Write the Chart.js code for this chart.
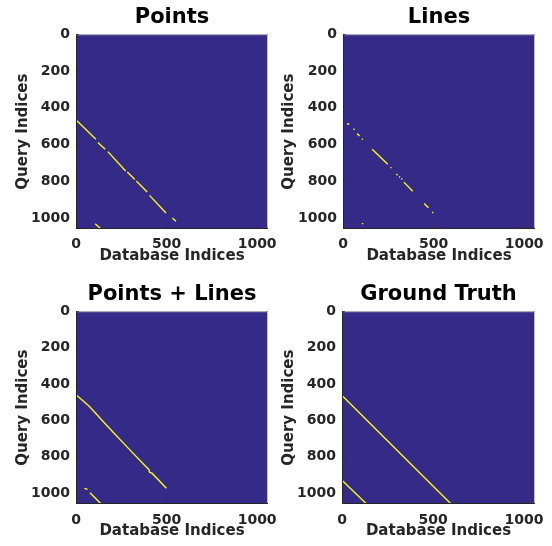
<!DOCTYPE html>
<html>
<head>
<meta charset="utf-8">
<script src="https://cdn.jsdelivr.net/npm/chart.js@4.4.0/dist/chart.umd.min.js"></script>
<style>
  body { margin: 0; background: #ffffff; }
  .panel { position: absolute; width: 276px; height: 273px; }
</style>
</head>
<body>
<div class="panel" style="left:0;top:0"><canvas id="c1" width="276" height="273"></canvas></div>
<div class="panel" style="left:276px;top:0"><canvas id="c2" width="276" height="273"></canvas></div>
<div class="panel" style="left:0;top:273px"><canvas id="c3" width="276" height="273"></canvas></div>
<div class="panel" style="left:276px;top:273px"><canvas id="c4" width="276" height="273"></canvas></div>
<script>
// ticks of the axes
const xTicks = [0, 500, 1000];
const yTicks = [0, 200, 400, 600, 800, 1000];

// Points (null = gap between segments)
const pointsX = [5, 110, null, 121, 161, null, 176, 274, null, 283, 325, null, 333, 393, null, 406, 497, null, 532, 552, null, 106, 141];
const pointsY = [471, 571, null, 589, 626, null, 639, 744, null, 750, 790, null, 799, 859, null, 877, 973, null, 1000, 1018, null, 1031, 1063];

// Lines
const linesX = [22, 35, null, 57, 65, null, 78, 91, null, 104, 110, null, 161, 247, null, 262, 268, null, 294, 298, null, 310, 315, null, 322, 328, null, 336, 385, null, 448, 472, null, 492, 498, null, 104, 112];
const linesY = [489, 489, null, 517, 518, null, 540, 554, null, 569, 573, null, 626, 708, null, 724, 728, null, 761, 764, null, 775, 779, null, 786, 790, null, 805, 855, null, 921, 945, null, 968, 972, null, 1031, 1031];

// Points + Lines
const bothX = [5, 73, 174, 292, 384, 402, 406, 421, 499, null, 46, 64, null, 77, 141];
const bothY = [464, 523, 633, 757, 852, 870, 885, 892, 973, null, 974, 980, null, 998, 1062];

// Ground Truth
const truthX = [0, 599, null, 0, 135];
const truthY = [464, 1060, null, 930, 1060];

const N = 1060;
const fontName = "'DejaVu Sans', 'Liberation Sans', sans-serif";

// fondo azul del area y marco con ticks hacia dentro
const imagePlugin = {
  id: 'imageBox',
  beforeDatasetsDraw(chart) {
    const a = chart.chartArea;
    const ctx = chart.ctx;
    ctx.save();
    ctx.fillStyle = '#352a87';
    ctx.fillRect(a.left, a.top, a.right - a.left, a.bottom - a.top);
    ctx.restore();
  },
  afterDatasetsDraw(chart) {
    const a = chart.chartArea;
    const ctx = chart.ctx;
    ctx.save();
    ctx.lineWidth = 1;
    ctx.strokeStyle = '#bdbdbd';
    ctx.beginPath();
    ctx.moveTo(a.left, a.top + 0.5);
    ctx.lineTo(a.right - 0.5, a.top + 0.5);
    ctx.lineTo(a.right - 0.5, a.bottom);
    ctx.stroke();
    ctx.strokeStyle = '#262626';
    ctx.beginPath();
    ctx.moveTo(a.left + 0.5, a.top);
    ctx.lineTo(a.left + 0.5, a.bottom - 0.5);
    ctx.lineTo(a.right, a.bottom - 0.5);
    ctx.stroke();
    ctx.strokeStyle = 'rgba(38,38,38,0.7)';
    ctx.beginPath();
    xTicks.forEach(v => {
      const px = Math.round(chart.scales.x.getPixelForValue(v)) + 0.5;
      ctx.moveTo(px, a.bottom);
      ctx.lineTo(px, a.bottom - 3);
    });
    yTicks.forEach(v => {
      const py = Math.round(chart.scales.y.getPixelForValue(v)) + 0.5;
      ctx.moveTo(a.left, py);
      ctx.lineTo(a.left + 3, py);
    });
    ctx.stroke();
    ctx.restore();
  }
};

function makePanel(id, title, xs, ys, box) {
  const data = xs.map((x, i) => ({ x: x, y: ys[i] }));
  return new Chart(document.getElementById(id), {
    type: 'scatter',
    data: {
      datasets: [{
        data: data,
        showLine: true,
        spanGaps: false,
        borderColor: '#f9fb0e',
        borderWidth: 1.4,
        pointRadius: 0,
        pointHoverRadius: 0
      }]
    },
    options: {
      responsive: false,
      animation: false,
      devicePixelRatio: 1,
      layout: { padding: { left: 0, right: box.right, top: 0, bottom: 0 } },
      plugins: {
        legend: { display: false },
        tooltip: { enabled: false },
        title: {
          display: true,
          text: title,
          fullSize: false,
          color: '#000000',
          font: { family: fontName, size: 21, weight: 'bold' },
          padding: { top: box.titleTop, bottom: 4 }
        }
      },
      scales: {
        x: {
          type: 'linear',
          min: 0,
          max: N,
          afterBuildTicks: (s) => { s.ticks = xTicks.map(v => ({ value: v })); },
          afterFit: (s) => { s.height = box.bottom; s.paddingLeft = 0; s.paddingRight = 0; },
          grid: { display: false, drawTicks: false },
          border: { display: false },
          ticks: {
            color: '#262626',
            padding: box.xTickPad,
            maxRotation: 0,
            autoSkip: false,
            callback: (v) => String(v),
            font: { family: fontName, size: 14, weight: 'bold' }
          },
          title: {
            display: true,
            text: 'Database Indices',
            color: '#262626',
            font: { family: fontName, size: 15, weight: 'bold' },
            padding: { top: 0, bottom: box.xTitlePad }
          }
        },
        y: {
          type: 'linear',
          reverse: true,
          min: 0,
          max: N,
          afterBuildTicks: (s) => { s.ticks = yTicks.map(v => ({ value: v })); },
          afterFit: (s) => { s.width = box.left; s.paddingTop = 0; s.paddingBottom = 0; },
          grid: { display: false, drawTicks: false },
          border: { display: false },
          ticks: {
            color: '#262626',
            padding: 6,
            autoSkip: false,
            callback: (v) => String(v),
            font: { family: fontName, size: 14, weight: 'bold' }
          },
          title: {
            display: true,
            text: 'Query Indices',
            color: '#262626',
            font: { family: fontName, size: 15, weight: 'bold' },
            padding: { top: box.yTitlePad, bottom: 0 }
          }
        }
      }
    },
    plugins: [imagePlugin]
  });
}

makePanel('c1', 'Points', pointsX, pointsY, { left: 76, right: 8, bottom: 44, titleTop: 5, xTickPad: 7, xTitlePad: 8, yTitlePad: 14 });
makePanel('c2', 'Lines', linesX, linesY, { left: 67, right: 17, bottom: 44, titleTop: 5, xTickPad: 7, xTitlePad: 8, yTitlePad: 4 });
makePanel('c3', 'Points + Lines', bothX, bothY, { left: 76, right: 8, bottom: 42, titleTop: 9, xTickPad: 8, xTitlePad: 6, yTitlePad: 14 });
makePanel('c4', 'Ground Truth', truthX, truthY, { left: 66, right: 17, bottom: 42, titleTop: 9, xTickPad: 8, xTitlePad: 6, yTitlePad: 4 });
</script>
</body>
</html>
